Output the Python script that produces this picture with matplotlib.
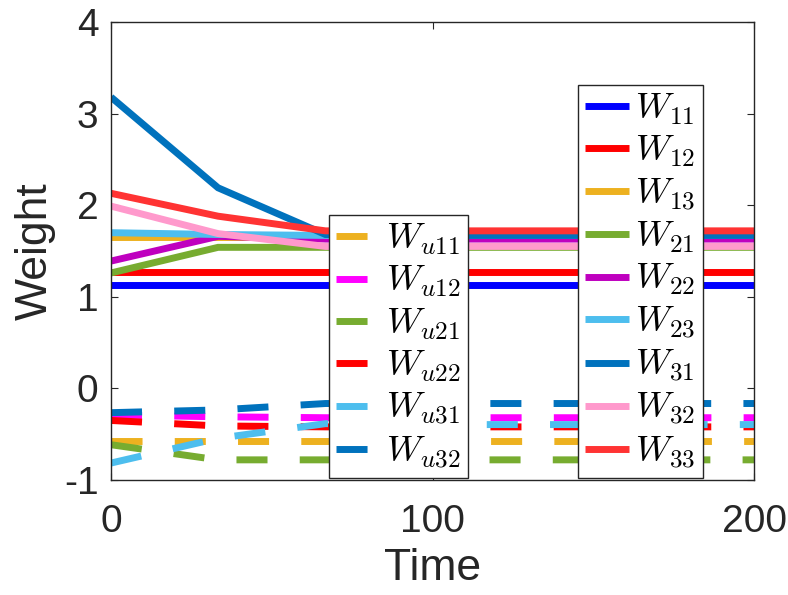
import matplotlib
matplotlib.use("Agg")
import matplotlib.pyplot as plt
from matplotlib.lines import Line2D

plt.rcParams['font.family'] = ['Liberation Sans', 'DejaVu Sans']
plt.rcParams['mathtext.fontset'] = 'cm'

# ---- data ----
time = [0, 33.3, 66.7, 100, 133.3, 166.7, 200]

W11 = [1.13, 1.13, 1.13, 1.13, 1.13, 1.13, 1.13]
W12 = [1.27, 1.27, 1.27, 1.27, 1.27, 1.27, 1.27]
W13 = [1.65, 1.65, 1.65, 1.65, 1.65, 1.65, 1.65]
W21 = [1.26, 1.54, 1.54, 1.54, 1.54, 1.54, 1.54]
W22 = [1.39, 1.66, 1.63, 1.63, 1.63, 1.63, 1.63]
W23 = [1.70, 1.68, 1.67, 1.67, 1.67, 1.67, 1.67]
W31 = [3.18, 2.19, 1.68, 1.67, 1.67, 1.67, 1.67]
W32 = [1.99, 1.69, 1.55, 1.55, 1.55, 1.55, 1.55]
W33 = [2.13, 1.88, 1.72, 1.72, 1.72, 1.72, 1.72]

Wu11 = [-0.57, -0.57, -0.57, -0.57, -0.57, -0.57, -0.57]
Wu12 = [-0.29, -0.31, -0.32, -0.32, -0.32, -0.32, -0.32]
Wu21 = [-0.615, -0.78, -0.78, -0.78, -0.78, -0.78, -0.78]
Wu22 = [-0.35, -0.41, -0.42, -0.42, -0.42, -0.42, -0.42]
Wu31 = [-0.815, -0.545, -0.385, -0.395, -0.395, -0.395, -0.395]
Wu32 = [-0.265, -0.235, -0.165, -0.165, -0.165, -0.165, -0.165]

solid_series = [W11, W12, W13, W21, W22, W23, W31, W32, W33]
solid_labels = ['$W_{11}$', '$W_{12}$', '$W_{13}$', '$W_{21}$', '$W_{22}$',
                '$W_{23}$', '$W_{31}$', '$W_{32}$', '$W_{33}$']
solid_colors = ['#0000FF', '#FF0000', '#EDB120', '#77AC30', '#BF00BF',
                '#4DBEEE', '#0072BD', '#FF99CC', '#FF3333']

dash_series = [Wu11, Wu12, Wu21, Wu22, Wu31, Wu32]
dash_labels = ['$W_{u11}$', '$W_{u12}$', '$W_{u21}$', '$W_{u22}$',
               '$W_{u31}$', '$W_{u32}$']
dash_colors = ['#EDB120', '#FF00FF', '#77AC30', '#FF0000', '#4DBEEE', '#0072BD']

xticks = [0, 100, 200]
yticks = [-1, 0, 1, 2, 3, 4]
ytick_labels = ['-1', '0', '1', '2', '3', '4']

# ---- figure ----
fig = plt.figure(figsize=(7.88, 5.95), dpi=100)
ax = fig.add_axes([111/788, 1-480/595, (754-111)/788, (480-22)/595])

LW = 5.0
dash_pat = (4.47, 4.64)

dash_handles = []
for s, c, l in zip(dash_series, dash_colors, dash_labels):
    ln, = ax.plot(time, s, color=c, lw=LW, dashes=dash_pat,
                  dash_capstyle='butt', label=l)
    dash_handles.append(ln)

solid_handles = []
for s, c, l in zip(solid_series, solid_colors, solid_labels):
    ln, = ax.plot(time, s, color=c, lw=LW, solid_capstyle='butt',
                  solid_joinstyle='miter', label=l)
    solid_handles.append(ln)

ax.set_xlim(0, 200)
ax.set_ylim(-1, 4)
ax.set_xticks(xticks)
ax.set_yticks(yticks)
ax.set_yticklabels(ytick_labels)

axc = '#262626'
for sp in ax.spines.values():
    sp.set_color(axc)
    sp.set_linewidth(1.0)
ax.tick_params(direction='in', length=5, width=0.8, colors=axc,
               labelsize=28, top=True, right=True)
ax.tick_params(axis='x', pad=17)
ax.tick_params(axis='y', pad=9)
ax.set_xlabel('Time', fontsize=32, color=axc, labelpad=6)
ax.set_ylabel('Weight', fontsize=32, color=axc, labelpad=6)

fs = 26
common = dict(fontsize=fs, frameon=True, fancybox=False, framealpha=1,
              edgecolor=axc, handlelength=1.22, handletextpad=0.17,
              borderpad=0.2, labelspacing=0.2, borderaxespad=0.0)

leg1 = ax.legend(handles=dash_handles, loc='lower left',
                 bbox_to_anchor=(329/788, 1-478/595),
                 bbox_transform=fig.transFigure, **common)
leg1.get_frame().set_linewidth(1.0)
ax.add_artist(leg1)

leg2 = ax.legend(handles=solid_handles, loc='lower left',
                 bbox_to_anchor=(578/788, 1-478/595),
                 bbox_transform=fig.transFigure, **common)
leg2.get_frame().set_linewidth(1.0)

fig.savefig('out.png', dpi=100)
